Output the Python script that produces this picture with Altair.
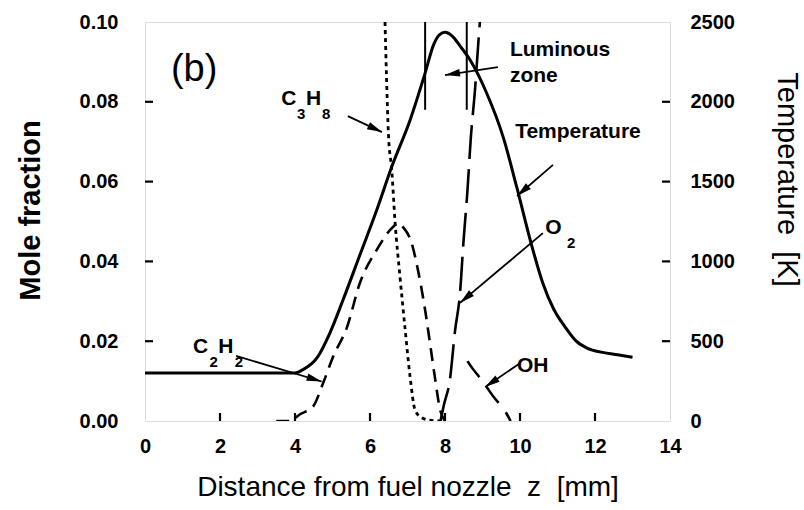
import math
import altair as alt
import pandas as pd

# ---------------- data ----------------
temp_z = [0.0, 4.0, 4.2, 4.6, 4.93, 5.28, 5.73, 6.18, 6.58, 7.07, 7.47, 7.7, 7.85, 8.0,
          8.2, 8.4, 8.67, 9.11, 9.55, 9.91, 10.3, 10.6, 10.9, 11.2, 11.5, 11.8, 12.2, 12.6, 13.0]
temp_K = [300, 300, 320, 400, 551, 758, 1040, 1322, 1593, 1886, 2180, 2360, 2420, 2435,
          2410, 2350, 2262, 2055, 1780, 1468, 1110, 870, 700, 590, 500, 455, 430, 415, 400]

c3h8_z = [6.40, 6.44, 6.49, 6.58, 6.67, 6.80, 6.93, 7.07, 7.20, 7.38, 7.6, 7.9]
c3h8_x = [0.100, 0.0863, 0.0722, 0.0629, 0.0496, 0.0361, 0.0236, 0.0110, 0.0028, 0.0008, 0.0002, 0.0]

c2h2_z = [3.5, 3.95, 4.05, 4.48, 4.75, 5.01, 5.39, 5.73, 6.18, 6.62, 6.75, 6.88, 7.11,
          7.28, 7.47, 7.60, 7.73, 7.87, 8.0]
c2h2_x = [0.0, 0.0, 0.0011, 0.0036, 0.0095, 0.0160, 0.0236, 0.0346, 0.0429, 0.0487, 0.0496,
          0.0486, 0.0446, 0.0378, 0.0278, 0.0195, 0.0110, 0.0028, 0.0]

o2_z = [7.88, 7.97, 8.13, 8.27, 8.40, 8.49, 8.60, 8.69, 8.80, 8.89, 8.93]
o2_x = [0.0, 0.004, 0.0103, 0.0228, 0.032, 0.0446, 0.0579, 0.0712, 0.083, 0.095, 0.100]

oh_z = [8.6, 8.67, 9.0, 9.3, 9.6, 9.75]
oh_x = [0.0150, 0.0140, 0.0100, 0.0060, 0.0025, 0.0]

lum_z = [7.47, 8.58]
lum_top = [0.100, 0.100]
lum_bot = [0.078, 0.078]

x_tick_vals = [0, 2, 4, 6, 8, 10, 12, 14]
y_tick_vals = [0.00, 0.02, 0.04, 0.06, 0.08, 0.10]
t_tick_vals = [0, 500, 1000, 1500, 2000, 2500]
inner_x_ticks = [2, 4, 6, 8, 10, 12]
inner_y_ticks = [0.02, 0.04, 0.06, 0.08]

# annotation text: main-size pieces and subscript pieces (chemical formulas)
label_text = ["C", "H", "Luminous", "zone", "Temperature", "O", "C", "H", "OH"]
label_z = [3.63, 4.29, 9.73, 9.73, 9.87, 10.67, 1.28, 1.95, 9.92]
label_x = [0.0807, 0.0807, 0.0930, 0.0865, 0.0724, 0.0484, 0.0185, 0.0185, 0.0138]

sub_text = ["3", "8", "2", "2", "2"]
sub_z = [4.05, 4.72, 11.25, 1.72, 2.39]
sub_x = [0.0770, 0.0770, 0.0446, 0.0148, 0.0148]

panel_text = ["(b)"]
panel_z = [1.31]
panel_x = [0.0880]

arrow_z1 = [5.41, 9.41, 10.88, 10.61, 2.43, 10.0]
arrow_x1 = [0.0764, 0.0887, 0.0642, 0.0471, 0.0163, 0.0145]
arrow_z2 = [6.32, 8.00, 9.92, 8.40, 4.71, 9.07]
arrow_x2 = [0.0724, 0.0867, 0.0564, 0.0296, 0.0099, 0.0085]

X_TITLE = "Distance from fuel nozzle\u00a0\u00a0z\u00a0\u00a0[mm]"
Y_TITLE = "Mole fraction"
T_TITLE = "Temperature\u00a0\u00a0[K]"

# ---------------- layout ----------------
W, H = 525, 399
X_MAX, Y_MAX, T_MAX = 14, 0.10, 2500
FONT = "Liberation Sans"

xs = alt.Scale(domain=[0, X_MAX], nice=False, zero=False)
ys = alt.Scale(domain=[0, Y_MAX], nice=False, zero=False)
ts = alt.Scale(domain=[0, T_MAX], nice=False, zero=False)

X = alt.X("z:Q", scale=xs, axis=alt.Axis(
    values=x_tick_vals, format="d", ticks=False, domain=False, grid=False,
    labelFont=FONT, labelFontWeight="bold", labelFontSize=20, labelColor="black",
    labelPadding=15, labelFlush=False,
    title=X_TITLE, titleFont=FONT, titleFontWeight="normal",
    titleFontSize=28, titleColor="black", titleY=66, titleBaseline="middle"))

Y = alt.Y("v:Q", scale=ys, axis=alt.Axis(
    values=y_tick_vals, format=".2f", ticks=False, domain=False, grid=False,
    labelFont=FONT, labelFontWeight="bold", labelFontSize=20, labelColor="black",
    labelPadding=27, labelFlush=False,
    title=Y_TITLE, titleFont=FONT, titleFontWeight="bold", titleFontSize=29,
    titleColor="black", titleAngle=270, titleX=-115, titleY=188,
    titleAlign="center", titleBaseline="middle"))


def series(zs, vs):
    return pd.DataFrame({"z": zs, "v": vs})


def line(df, dash, width=2.6):
    m = alt.Chart(df).mark_line(color="black", strokeWidth=width, interpolate="monotone",
                                strokeDash=dash, clip=True)
    return m.encode(x=X, y=Y)


c3h8 = line(series(c3h8_z, c3h8_x), [4, 4], 2.8)
c2h2 = line(series(c2h2_z, c2h2_x), [13, 8])
o2 = line(series(o2_z, o2_x), [34, 10])
oh = line(series(oh_z, oh_x), [20, 12])

lum = alt.Chart(pd.DataFrame({"z": lum_z, "v": lum_top, "v2": lum_bot})).mark_rule(
    color="black", strokeWidth=2).encode(x=X, y=Y, y2="v2:Q")

# inward ticks
lt = alt.Chart(pd.DataFrame({"v": inner_y_ticks})).mark_rule(color="black", strokeWidth=2.2)
left_ticks = lt.encode(y=Y, x=alt.value(0), x2=alt.value(8))
right_ticks = lt.encode(y=Y, x=alt.value(W), x2=alt.value(W - 8))
bottom_ticks = alt.Chart(pd.DataFrame({"z": inner_x_ticks})).mark_rule(
    color="black", strokeWidth=2.2).encode(x=X, y=alt.value(H), y2=alt.value(H - 8))

# arrows
px_mm = W / X_MAX
px_v = H / Y_MAX
angles = []
for a, b, c, d in zip(arrow_z1, arrow_x1, arrow_z2, arrow_x2):
    dx = (c - a) * px_mm
    dy = -(d - b) * px_v
    angles.append(math.degrees(math.atan2(dx, -dy)) % 360)
arr_df = pd.DataFrame({"z": arrow_z1, "v": arrow_x1, "z2": arrow_z2, "v2": arrow_x2})
head_df = pd.DataFrame({"z": arrow_z2, "v": arrow_x2, "ang": angles})
arrow_lines = alt.Chart(arr_df).mark_rule(color="black", strokeWidth=1.8).encode(
    x=X, y=Y, x2="z2:Q", y2="v2:Q")
arrow_heads = alt.Chart(head_df).mark_point(
    shape="M0,0L0.5,2L-0.5,2Z", filled=True, color="black", opacity=1, size=225,
    strokeWidth=0).encode(x=X, y=Y, angle=alt.Angle("ang:Q", scale=None))

labels = alt.Chart(pd.DataFrame({"z": label_z, "v": label_x, "t": label_text})).mark_text(
    font=FONT, fontWeight="bold", fontSize=21, align="left", baseline="middle",
    color="black").encode(x=X, y=Y, text="t:N")
subs = alt.Chart(pd.DataFrame({"z": sub_z, "v": sub_x, "t": sub_text})).mark_text(
    font=FONT, fontWeight="bold", fontSize=15, align="left", baseline="middle",
    color="black").encode(x=X, y=Y, text="t:N")
panel = alt.Chart(pd.DataFrame({"z": panel_z, "v": panel_x, "t": panel_text})).mark_text(
    font=FONT, fontSize=38, align="center", baseline="middle", color="black").encode(
    x=X, y=Y, text="t:N")

mole = alt.layer(c3h8, c2h2, o2, oh, lum, left_ticks, right_ticks, bottom_ticks,
                 arrow_lines, arrow_heads, labels, subs, panel)

temp = alt.Chart(pd.DataFrame({"z": temp_z, "T": temp_K})).mark_line(
    color="black", strokeWidth=3, interpolate="monotone").encode(
    x=X,
    y=alt.Y("T:Q", scale=ts, axis=alt.Axis(
        orient="right", values=t_tick_vals, format="d", ticks=False, domain=False,
        grid=False, labelFont=FONT, labelFontWeight="bold", labelFontSize=20,
        labelColor="black", labelPadding=20, labelFlush=False,
        title=T_TITLE, titleFont=FONT, titleFontWeight="normal",
        titleFontSize=29, titleColor="black", titleAngle=90, titleX=116, titleY=157,
        titleAlign="center", titleBaseline="middle")))

chart = alt.layer(mole, temp).resolve_scale(y="independent").properties(
    width=W, height=H, autosize="none",
    padding={"left": 145, "top": 22, "right": 134, "bottom": 89},
).configure_view(stroke="black", strokeWidth=2.8).configure(background="white")

chart.save("out.html", embed_options={"renderer": "svg", "actions": False})
